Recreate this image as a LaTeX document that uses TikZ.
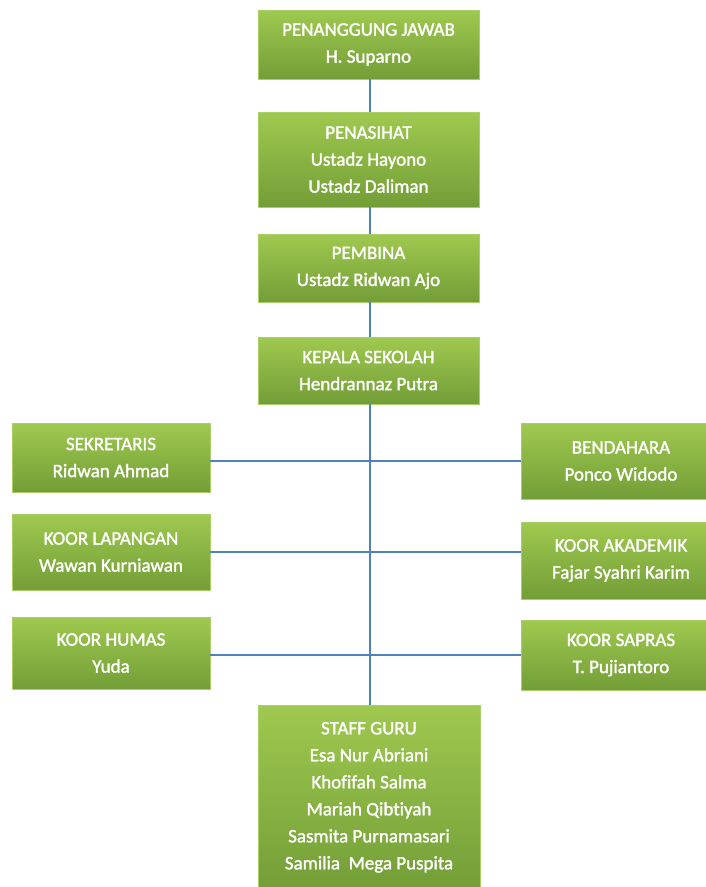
\documentclass[tikz,border=0pt]{standalone}
\usepackage{fontspec}
\setmainfont{Carlito}
\newfontfamily\boxfont[FakeBold=1.6,Ligatures={NoCommon}]{Carlito}
\definecolor{gtop}{HTML}{9FC94F}
\definecolor{gbot}{HTML}{739E37}
\definecolor{gedge}{HTML}{A9CF66}
\definecolor{conn}{HTML}{4F81BD}
\begin{document}
\begin{tikzpicture}[x=1pt,y=-1pt,
  box/.style={rectangle, top color=gtop, bottom color=gbot, draw=gedge, line width=0.6pt,
    text=white, font=\boxfont\fontsize{19}{27}\selectfont, align=center, inner sep=0pt,
    minimum width=#1},
  box/.default=221,
  link/.style={draw=conn, line width=1.6pt}]
\useasboundingbox (0,0) rectangle (706,887);
\fill[white] (0,0) rectangle (706,887);
% boxes
\node[box, minimum height=69] (pj) at (368.5,44.5) {PENANGGUNG JAWAB\\H. Suparno};
\node[box, minimum height=95] (pn) at (368.5,159.5) {PENASIHAT\\Ustadz Hayono\\Ustadz Daliman};
\node[box, minimum height=68] (pb) at (368.5,268) {PEMBINA\\Ustadz Ridwan Ajo};
\node[box, minimum height=67] (ks) at (368.5,370.5) {KEPALA SEKOLAH\\Hendrannaz Putra};
\node[box=198, minimum height=69] (sek) at (111,457.5) {SEKRETARIS\\Ridwan Ahmad};
\node[box=198, minimum height=76] (lap) at (111,552) {KOOR LAPANGAN\\Wawan Kurniawan};
\node[box=198, minimum height=72] (hum) at (111,653) {KOOR HUMAS\\Yuda};
\node[box=200, minimum height=76] (ben) at (621,461) {BENDAHARA\\Ponco Widodo};
\node[box=200, minimum height=77] (aka) at (621,560.5) {KOOR AKADEMIK\\Fajar Syahri Karim};
\node[box=200, minimum height=70] (sap) at (621,655) {KOOR SAPRAS\\T. Pujiantoro};
\node[box=222, minimum height=184, anchor=north] (sg) at (369,705) {STAFF GURU\\Esa Nur Abriani\\Khofifah Salma\\Mariah Qibtiyah\\Sasmita Purnamasari\\Samilia\ \ Mega Puspita};
% connectors
\draw[link] (pj.south -| 370,0) -- (pn.north -| 370,0);
\draw[link] (pn.south -| 370,0) -- (pb.north -| 370,0);
\draw[link] (pb.south -| 370,0) -- (ks.north -| 370,0);
\draw[link] (ks.south -| 370,0) -- (sg.north -| 370,0);
\draw[link] (ben.west -| sek.east) -- (ben.west);
\draw[link] (lap.east) -- (lap.east -| aka.west);
\draw[link] (sap.west -| hum.east) -- (sap.west);
\end{tikzpicture}
\end{document}
